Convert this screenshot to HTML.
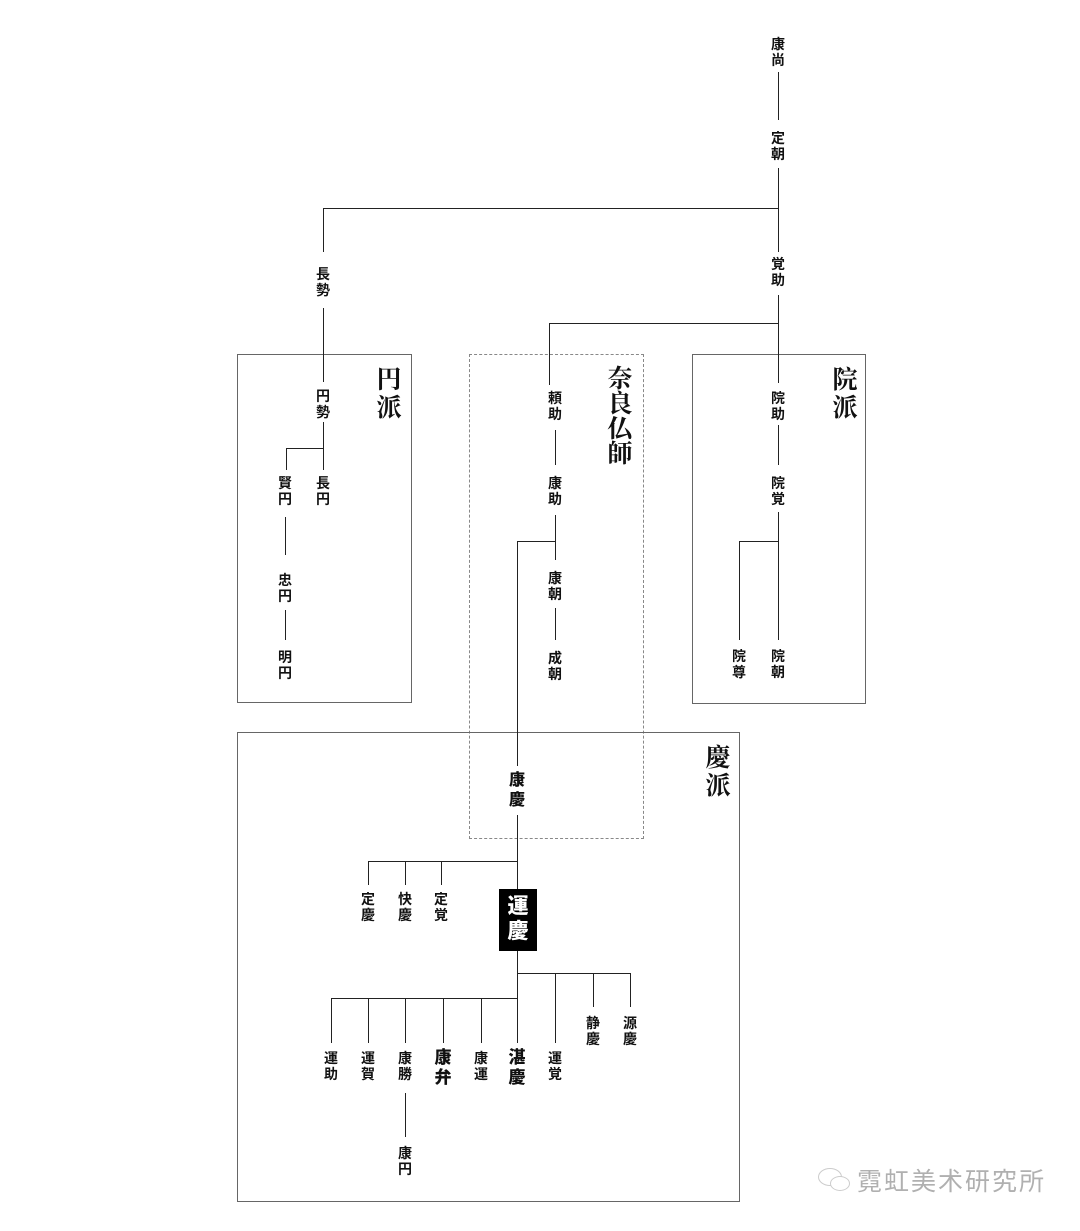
<!DOCTYPE html><html><head><meta charset="utf-8"><style>
body{margin:0;width:1080px;height:1231px;background:#fff;position:relative;overflow:hidden;font-family:"Liberation Sans","Noto Sans CJK JP",sans-serif}
.l{position:absolute;background:#222}
.n{position:absolute;width:30px;margin-left:-15px;text-align:center;font-size:14px;line-height:16px;color:#111;font-weight:bold}
.b{font-size:17px;line-height:20px;font-weight:900}
.t{position:absolute;width:40px;margin-left:-20px;text-align:center;font-family:"Liberation Serif","Noto Serif CJK SC",serif;font-size:25px;line-height:28px;font-weight:bold;color:#111}
.box{position:absolute;border:1px solid #666}
</style></head><body>
<div class="box" style="left:237px;top:354px;width:173px;height:347px"></div>
<div class="box" style="left:469px;top:354px;width:173px;height:483px;border-color:#888;border-style:dashed"></div>
<div class="box" style="left:692px;top:354px;width:172px;height:348px"></div>
<div class="box" style="left:237px;top:732px;width:501px;height:468px"></div>

<div class="l" style="left:778px;top:72px;width:1px;height:48px"></div>
<div class="l" style="left:778px;top:168px;width:1px;height:84px"></div>
<div class="l" style="left:323px;top:208px;width:456px;height:1px"></div>
<div class="l" style="left:323px;top:208px;width:1px;height:44px"></div>
<div class="l" style="left:323px;top:308px;width:1px;height:74px"></div>
<div class="l" style="left:778px;top:295px;width:1px;height:88px"></div>
<div class="l" style="left:549px;top:323px;width:230px;height:1px"></div>
<div class="l" style="left:549px;top:323px;width:1px;height:62px"></div>

<div class="l" style="left:323px;top:422px;width:1px;height:48px"></div>
<div class="l" style="left:286px;top:448px;width:37px;height:1px"></div>
<div class="l" style="left:286px;top:448px;width:1px;height:22px"></div>
<div class="l" style="left:285px;top:517px;width:1px;height:38px"></div>
<div class="l" style="left:285px;top:610px;width:1px;height:30px"></div>

<div class="l" style="left:555px;top:430px;width:1px;height:35px"></div>
<div class="l" style="left:555px;top:515px;width:1px;height:45px"></div>
<div class="l" style="left:517px;top:541px;width:38px;height:1px"></div>
<div class="l" style="left:517px;top:541px;width:1px;height:225px"></div>
<div class="l" style="left:555px;top:608px;width:1px;height:32px"></div>

<div class="l" style="left:778px;top:425px;width:1px;height:40px"></div>
<div class="l" style="left:778px;top:512px;width:1px;height:128px"></div>
<div class="l" style="left:739px;top:541px;width:39px;height:1px"></div>
<div class="l" style="left:739px;top:541px;width:1px;height:99px"></div>

<div class="l" style="left:517px;top:815px;width:1px;height:75px"></div>
<div class="l" style="left:368px;top:861px;width:149px;height:1px"></div>
<div class="l" style="left:368px;top:861px;width:1px;height:24px"></div>
<div class="l" style="left:405px;top:861px;width:1px;height:24px"></div>
<div class="l" style="left:441px;top:861px;width:1px;height:24px"></div>

<div class="l" style="left:517px;top:950px;width:1px;height:93px"></div>
<div class="l" style="left:517px;top:973px;width:113px;height:1px"></div>
<div class="l" style="left:555px;top:973px;width:1px;height:70px"></div>
<div class="l" style="left:593px;top:973px;width:1px;height:34px"></div>
<div class="l" style="left:630px;top:973px;width:1px;height:34px"></div>
<div class="l" style="left:331px;top:998px;width:186px;height:1px"></div>
<div class="l" style="left:331px;top:998px;width:1px;height:45px"></div>
<div class="l" style="left:368px;top:998px;width:1px;height:45px"></div>
<div class="l" style="left:405px;top:998px;width:1px;height:45px"></div>
<div class="l" style="left:443px;top:998px;width:1px;height:45px"></div>
<div class="l" style="left:481px;top:998px;width:1px;height:45px"></div>
<div class="l" style="left:405px;top:1093px;width:1px;height:44px"></div>

<div class="n" style="left:778px;top:36px">康<br>尚</div>
<div class="n" style="left:778px;top:130px">定<br>朝</div>
<div class="n" style="left:778px;top:256px">覚<br>助</div>
<div class="n" style="left:323px;top:266px">長<br>勢</div>
<div class="n" style="left:323px;top:388px">円<br>勢</div>
<div class="n" style="left:285px;top:475px">賢<br>円</div>
<div class="n" style="left:323px;top:475px">長<br>円</div>
<div class="n" style="left:285px;top:572px">忠<br>円</div>
<div class="n" style="left:285px;top:649px">明<br>円</div>
<div class="n" style="left:555px;top:390px">頼<br>助</div>
<div class="n" style="left:555px;top:475px">康<br>助</div>
<div class="n" style="left:555px;top:570px">康<br>朝</div>
<div class="n" style="left:555px;top:650px">成<br>朝</div>
<div class="n" style="left:778px;top:390px">院<br>助</div>
<div class="n" style="left:778px;top:475px">院<br>覚</div>
<div class="n" style="left:739px;top:648px">院<br>尊</div>
<div class="n" style="left:778px;top:648px">院<br>朝</div>
<div class="n b" style="left:517px;top:771px;font-size:16px">康<br>慶</div>
<div class="n" style="left:368px;top:891px">定<br>慶</div>
<div class="n" style="left:405px;top:891px">快<br>慶</div>
<div class="n" style="left:441px;top:891px">定<br>覚</div>
<div style="position:absolute;left:499px;top:889px;width:38px;height:62px;background:#000;color:#fff;font-size:21px;line-height:25px;font-weight:900;text-align:center;padding-top:5px;box-sizing:border-box">運<br>慶</div>
<div class="n" style="left:593px;top:1015px">静<br>慶</div>
<div class="n" style="left:630px;top:1015px">源<br>慶</div>
<div class="n" style="left:331px;top:1050px">運<br>助</div>
<div class="n" style="left:368px;top:1050px">運<br>賀</div>
<div class="n" style="left:405px;top:1050px">康<br>勝</div>
<div class="n b" style="left:443px;top:1048px">康<br>弁</div>
<div class="n" style="left:481px;top:1050px">康<br>運</div>
<div class="n b" style="left:517px;top:1048px">湛<br>慶</div>
<div class="n" style="left:555px;top:1050px">運<br>覚</div>
<div class="n" style="left:405px;top:1145px">康<br>円</div>

<div class="t" style="left:389px;top:367px">円<br>派</div>
<div class="t" style="left:620px;top:367px;line-height:25px">奈<br>良<br>仏<br>師</div>
<div class="t" style="left:845px;top:367px">院<br>派</div>
<div class="t" style="left:718px;top:745px">慶<br>派</div>

<div style="position:absolute;left:818px;top:1168px;width:22px;height:16px;border:1.5px solid #ccc;border-radius:50%"></div>
<div style="position:absolute;left:830px;top:1176px;width:18px;height:13px;border:1.5px solid #ccc;border-radius:50%;background:#fff"></div>
<div style="position:absolute;left:857px;top:1166px;font-size:25px;line-height:32px;color:#b0b0b0;letter-spacing:2px">霓虹美术研究所</div>
</body></html>
